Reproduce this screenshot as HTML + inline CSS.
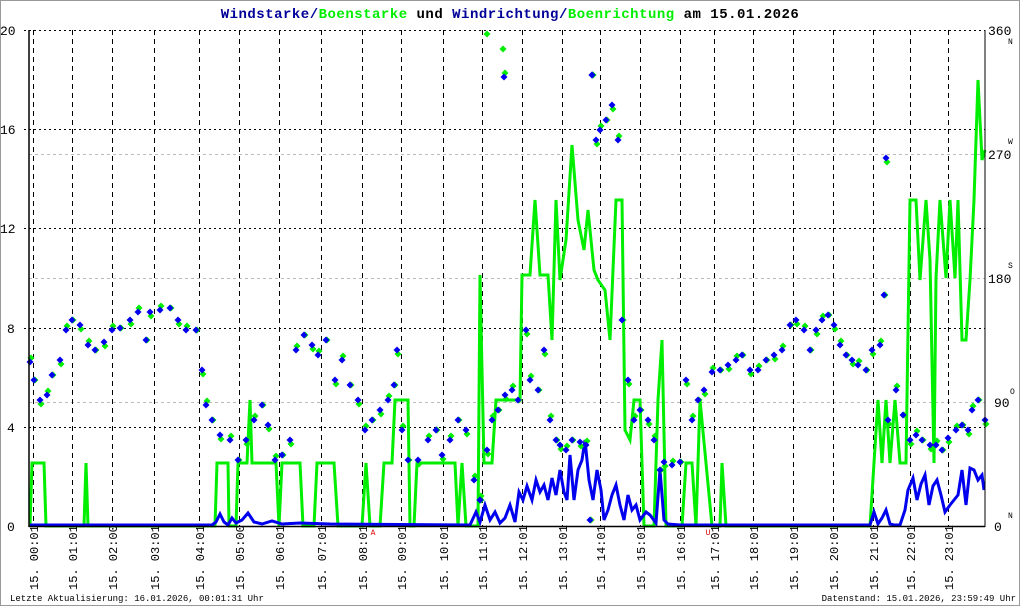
<!DOCTYPE html>
<html><head><meta charset="utf-8"><style>
body{margin:0;background:#fff}
svg{display:block;font-family:"Liberation Mono",monospace}
</style></head><body>
<svg id="s" width="1020" height="606" viewBox="0 0 1020 606" xmlns="http://www.w3.org/2000/svg">
<rect x="0.5" y="0.5" width="1019" height="605" fill="#fff" stroke="#999"/>
<text x="510" y="18" text-anchor="middle" font-size="14" font-weight="bold" letter-spacing="0.5"><tspan fill="#000099">Windstarke/</tspan><tspan fill="#00ee00">Boenstarke</tspan><tspan fill="#000"> und </tspan><tspan fill="#000099">Windrichtung/</tspan><tspan fill="#00ee00">Boenrichtung</tspan><tspan fill="#000"> am 15.01.2026</tspan></text>
<g id="grid"></g>
<g id="data"></g>
<line x1="29" y1="30" x2="29" y2="527" stroke="#000" stroke-width="1.5"/>
<line x1="985" y1="30" x2="985" y2="527" stroke="#000" stroke-width="1"/>
<line x1="29" y1="526.5" x2="985" y2="526.5" stroke="#000" stroke-width="1.5"/>
<g font-size="13" fill="#000">
<text x="0" y="35">20</text><text x="0" y="134">16</text><text x="0" y="233">12</text><text x="7" y="333">8</text><text x="7" y="432">4</text><text x="7" y="531">0</text>
<text x="988" y="35">360</text><text x="988" y="159">270</text><text x="988" y="283">180</text><text x="994" y="407">90</text><text x="994" y="531">0</text>
</g>
<g font-size="8" fill="#000">
<text x="1008" y="44">N</text><text x="1008" y="144">W</text><text x="1008" y="268">S</text><text x="1010" y="394">O</text><text x="1008" y="518">N</text>
</g>
<text x="373" y="535" font-size="8" fill="#d00" text-anchor="middle">A</text>
<text x="708" y="535" font-size="8" fill="#d00" text-anchor="middle">U</text>
<g id="xl" font-size="12" fill="#000"></g>
<text x="10" y="601" font-size="9">Letzte Aktualisierung: 16.01.2026, 00:01:31 Uhr</text>
<text x="1016" y="601" font-size="9" text-anchor="end">Datenstand: 15.01.2026, 23:59:49 Uhr</text>
</svg>
<script>
const NS="http://www.w3.org/2000/svg";
function el(p,t,a,txt){const e=document.createElementNS(NS,t);for(const k in a)e.setAttribute(k,a[k]);if(txt)e.textContent=txt;p.appendChild(e);return e;}
const g=document.getElementById('grid'),d=document.getElementById('data'),xl=document.getElementById('xl');
[154,278,402].forEach(y=>el(g,'line',{x1:29,x2:985,y1:y+.5,y2:y+.5,stroke:'#bbb','stroke-dasharray':'3,3'}));
[30,129,228,328,427].forEach(y=>el(g,'line',{x1:24,x2:985,y1:y+.5,y2:y+.5,stroke:'#000','stroke-dasharray':'2,3'}));
const xs=[33,72,112,154,199,239,279,321,362,401,443,482,522,562,600,640,680,714,753,793,833,873,910,948];
const lb=["00:01","01:01","02:00","03:01","04:01","05:00","06:01","07:01","08:01","09:01","10:01","11:01","12:01","13:01","14:01","15:01","16:01","17:01","18:01","19:01","20:01","21:01","22:01","23:01"];
xs.forEach((x,i)=>{el(g,'line',{x1:x+.5,x2:x+.5,y1:30,y2:526,stroke:'#000','stroke-dasharray':'5,4'});
el(xl,'text',{transform:`translate(${x+5},590) rotate(-90)`},"15. "+lb[i]);});
const green="30,526 32,463 44,463 46,526 84,526 86,463 88,526 215,526 217,463 228,463 229,526 236,526 238,463 247,463 250,400 252,463 276,463 279,526 282,463 300,463 303,526 314,526 317,463 334,463 338,526 362,526 366,463 370,526 380,526 384,463 392,463 395,400 408,400 410,526 414,526 417,463 455,463 458,526 462,463 466,526 478,526 480,275 484,463 492,463 496,400 520,400 522,275 530,275 535,200 540,275 548,275 552,340 556,200 560,280 566,240 572,145 578,220 584,250 588,210 594,270 598,280 605,290 610,340 616,200 622,200 625,430 630,440 634,400 640,400 644,526 654,526 658,400 662,340 666,526 682,526 686,463 692,463 696,526 700,400 706,463 712,526 720,526 722,463 726,526 870,526 874,463 878,400 882,463 886,400 890,463 895,400 900,463 906,463 910,200 916,200 920,280 926,200 930,260 934,463 936,278 940,200 946,278 950,200 955,278 958,200 962,340 966,340 970,280 974,200 978,80 982,160 985,150";
const blue="30,525 212,525 216,522 220,514 224,522 228,525 232,518 236,523 242,520 248,513 254,522 262,524 272,521 282,524 300,523 330,524 470,525 476,512 480,522 485,505 490,520 495,512 500,523 505,518 510,505 515,522 519,492 523,500 527,486 532,500 536,480 540,492 544,485 548,500 552,478 556,495 560,470 564,492 567,500 570,455 574,500 578,470 582,460 585,440 589,480 593,500 597,470 601,490 604,520 608,510 612,495 616,485 620,505 624,520 628,495 632,510 636,505 640,520 646,512 650,515 656,523 660,470 664,520 668,524 680,525 870,525 874,512 878,524 882,518 886,510 890,524 894,525 900,525 905,510 908,490 913,478 917,500 921,484 925,475 929,505 933,486 937,480 941,495 945,512 950,505 954,500 958,495 962,470 966,505 970,468 974,470 978,480 982,475 984,490";
el(d,'polyline',{points:green,fill:'none',stroke:'#00ee00','stroke-width':3});
el(d,'polyline',{points:blue,fill:'none',stroke:'#0000ee','stroke-width':3});
const sc="30,362 34,380 40,400 47,395 52,375 60,360 66,330 72,320 80,325 88,345 95,350 104,342 112,330 120,328 130,320 138,312 146,340 150,312 160,310 170,308 178,320 186,330 196,330 202,370 206,405 212,420 220,435 230,440 238,460 246,440 254,420 262,405 268,425 275,460 282,455 290,440 296,350 304,335 312,345 318,355 326,340 335,380 342,360 350,385 358,400 365,430 372,420 380,410 388,400 394,385 397,350 402,430 408,460 418,460 428,440 436,430 442,455 450,440 458,420 466,430 474,480 480,500 487,450 492,420 498,410 505,395 512,390 518,400 526,330 530,380 538,390 544,350 550,420 556,440 560,445 566,450 572,440 580,442 586,445 592,75 596,140 600,130 606,120 612,105 618,140 622,320 628,380 634,420 640,410 648,420 654,440 660,470 664,462 672,465 680,462 686,380 692,420 698,400 704,390 712,372 720,370 728,365 736,360 742,355 750,370 758,370 766,360 774,355 782,350 790,325 796,320 804,330 810,350 816,330 822,320 828,315 834,325 840,345 846,355 852,360 858,365 866,370 872,350 880,345 884,295 888,420 896,390 903,415 910,440 916,435 922,440 930,445 936,445 942,450 948,438 956,430 962,425 968,430 972,410 978,400 985,420 504,77 592,75 886,158 480,500 590,520";
const pts=sc.split(' ').map(p=>p.split(',').map(Number));
const dia=(x,y,c)=>el(d,'polygon',{points:`${x},${y-3.5} ${x+3.5},${y} ${x},${y+3.5} ${x-3.5},${y}`,fill:c});
pts.forEach(([x,y],i)=>dia(x+1,y+((i%3)-1)*4,'#00ee00'));
dia(487,34,'#00ee00');dia(503,49,'#00ee00');
pts.forEach(([x,y])=>dia(x,y,'#0000ee'));
</script>
</body></html>
